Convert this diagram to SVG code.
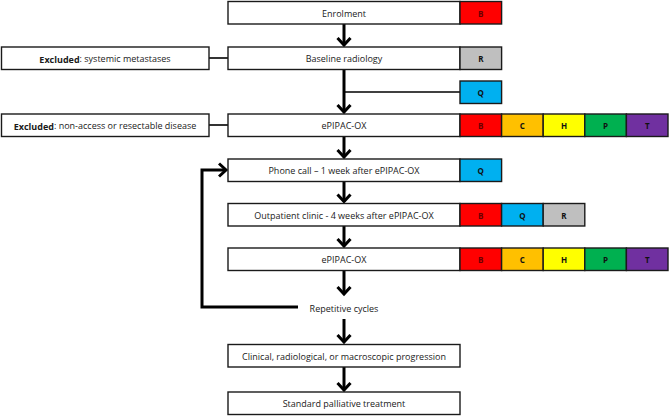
<svg xmlns="http://www.w3.org/2000/svg" width="669" height="416" viewBox="0 0 669 416">
<defs>
<style>
.box{fill:#fff;stroke:#1a1a1a;stroke-width:1.4}
.cb{stroke:#1a1a1a;stroke-width:1.4}
.t{font-family:"Open Sans","Liberation Sans",sans-serif;font-size:9px;fill:#1a1a1a;text-anchor:middle;dominant-baseline:central}
.tl{font-weight:bold;font-family:"Open Sans","Liberation Sans",sans-serif;font-size:8px;fill:#111;text-anchor:middle;dominant-baseline:central}
.tb{font-weight:bold;font-family:"Open Sans","Liberation Sans",sans-serif;font-size:8px;fill:#6a0000;text-anchor:middle;dominant-baseline:central}
.main{fill:none;stroke:#000;stroke-width:3}
.thin{fill:none;stroke:#000;stroke-width:1.6}
.red{fill:#FF0000}.gray{fill:#BFBFBF}.blue{fill:#00B0F0}.orange{fill:#FFC000}.yellow{fill:#FFFF00}.green{fill:#00B050}.purple{fill:#7030A0}
</style>
<marker id="ah" viewBox="0 0 12 16" markerWidth="12" markerHeight="16" markerUnits="userSpaceOnUse" refX="8.5" refY="8" orient="auto">
<path d="M1.5,1.5 L8.5,8 L1.5,14.5" fill="none" stroke="#000" stroke-width="3"/>
</marker>
</defs>

<g id="connectors">
<line class="main" x1="344" y1="24" x2="344" y2="45" marker-end="url(#ah)"/>
<line class="main" x1="344" y1="69.5" x2="344" y2="112" marker-end="url(#ah)"/>
<line class="thin" x1="344" y1="92" x2="460" y2="92"/>
<line class="main" x1="344" y1="136.5" x2="344" y2="157" marker-end="url(#ah)"/>
<line class="main" x1="344" y1="181.5" x2="344" y2="201.5" marker-end="url(#ah)"/>
<line class="main" x1="344" y1="226" x2="344" y2="246" marker-end="url(#ah)"/>
<line class="main" x1="344" y1="270.5" x2="344" y2="294" marker-end="url(#ah)"/>
<line class="main" x1="344" y1="319" x2="344" y2="342" marker-end="url(#ah)"/>
<line class="main" x1="344" y1="367" x2="344" y2="390" marker-end="url(#ah)"/>
<polyline class="main" points="298,307 202,307 202,170 226,170" marker-end="url(#ah)"/>
<line class="thin" x1="209" y1="58" x2="228" y2="58"/>
<line class="thin" x1="209" y1="125" x2="228" y2="125"/>
</g>

<g id="enrolment">
<rect class="box" x="228" y="1.5" width="232" height="22.5"/>
<text class="t" x="344" y="13">Enrolment</text>
<rect class="cb red" x="460" y="1.5" width="41.6" height="22.5"/>
<text class="tb" x="480.8" y="13">B</text>
</g>

<g id="baseline">
<rect class="box" x="228" y="47" width="232" height="22.5"/>
<text class="t" x="344" y="58.5">Baseline radiology</text>
<rect class="cb gray" x="460" y="47" width="41.6" height="22.5"/>
<text class="tl" x="480.8" y="58.5">R</text>
</g>

<g id="excluded1">
<rect class="box" x="1.5" y="47" width="207.5" height="22.5"/>
<text class="t" x="105" y="58.5"><tspan font-weight="bold">Excluded</tspan>: systemic metastases</text>
</g>

<g id="q1">
<rect class="cb blue" x="460" y="81" width="41.6" height="22.5"/>
<text class="tl" x="480.8" y="92.5">Q</text>
</g>

<g id="excluded2">
<rect class="box" x="1.5" y="114" width="207.5" height="22.5"/>
<text class="t" x="105" y="125.5"><tspan font-weight="bold">Excluded</tspan>: non-access or resectable disease</text>
</g>

<g id="epipac1">
<rect class="box" x="228" y="114" width="232" height="22.5"/>
<text class="t" x="344" y="125.5">ePIPAC-OX</text>
<rect class="cb red" x="460" y="114" width="41.6" height="22.5"/>
<text class="tb" x="480.8" y="125.5">B</text>
<rect class="cb orange" x="501.6" y="114" width="41.6" height="22.5"/>
<text class="tl" x="522.4" y="125.5">C</text>
<rect class="cb yellow" x="543.2" y="114" width="41.6" height="22.5"/>
<text class="tl" x="564" y="125.5">H</text>
<rect class="cb green" x="584.8" y="114" width="41.6" height="22.5"/>
<text class="tl" x="605.6" y="125.5">P</text>
<rect class="cb purple" x="626.4" y="114" width="41.6" height="22.5"/>
<text class="tl" x="647.2" y="125.5">T</text>
</g>

<g id="phone">
<rect class="box" x="228" y="159" width="232" height="22.5"/>
<text class="t" x="344" y="170.5">Phone call – 1 week after ePIPAC-OX</text>
<rect class="cb blue" x="460" y="159" width="41.6" height="22.5"/>
<text class="tl" x="480.8" y="170.5">Q</text>
</g>

<g id="outpatient">
<rect class="box" x="228" y="203.5" width="232" height="22.5"/>
<text class="t" x="344" y="215">Outpatient clinic - 4 weeks after ePIPAC-OX</text>
<rect class="cb red" x="460" y="203.5" width="41.6" height="22.5"/>
<text class="tb" x="480.8" y="215">B</text>
<rect class="cb blue" x="501.6" y="203.5" width="41.6" height="22.5"/>
<text class="tl" x="522.4" y="215">Q</text>
<rect class="cb gray" x="543.2" y="203.5" width="41.6" height="22.5"/>
<text class="tl" x="564" y="215">R</text>
</g>

<g id="epipac2">
<rect class="box" x="228" y="248" width="232" height="22.5"/>
<text class="t" x="344" y="259.5">ePIPAC-OX</text>
<rect class="cb red" x="460" y="248" width="41.6" height="22.5"/>
<text class="tb" x="480.8" y="259.5">B</text>
<rect class="cb orange" x="501.6" y="248" width="41.6" height="22.5"/>
<text class="tl" x="522.4" y="259.5">C</text>
<rect class="cb yellow" x="543.2" y="248" width="41.6" height="22.5"/>
<text class="tl" x="564" y="259.5">H</text>
<rect class="cb green" x="584.8" y="248" width="41.6" height="22.5"/>
<text class="tl" x="605.6" y="259.5">P</text>
<rect class="cb purple" x="626.4" y="248" width="41.6" height="22.5"/>
<text class="tl" x="647.2" y="259.5">T</text>
</g>

<g id="cycles">
<text class="t" x="344" y="308">Repetitive cycles</text>
</g>

<g id="progression">
<rect class="box" x="228" y="344.5" width="232" height="22.5"/>
<text class="t" x="344" y="356">Clinical, radiological, or macroscopic progression</text>
</g>

<g id="palliative">
<rect class="box" x="228" y="392" width="232" height="22.5"/>
<text class="t" x="344" y="403.5">Standard palliative treatment</text>
</g>
</svg>
